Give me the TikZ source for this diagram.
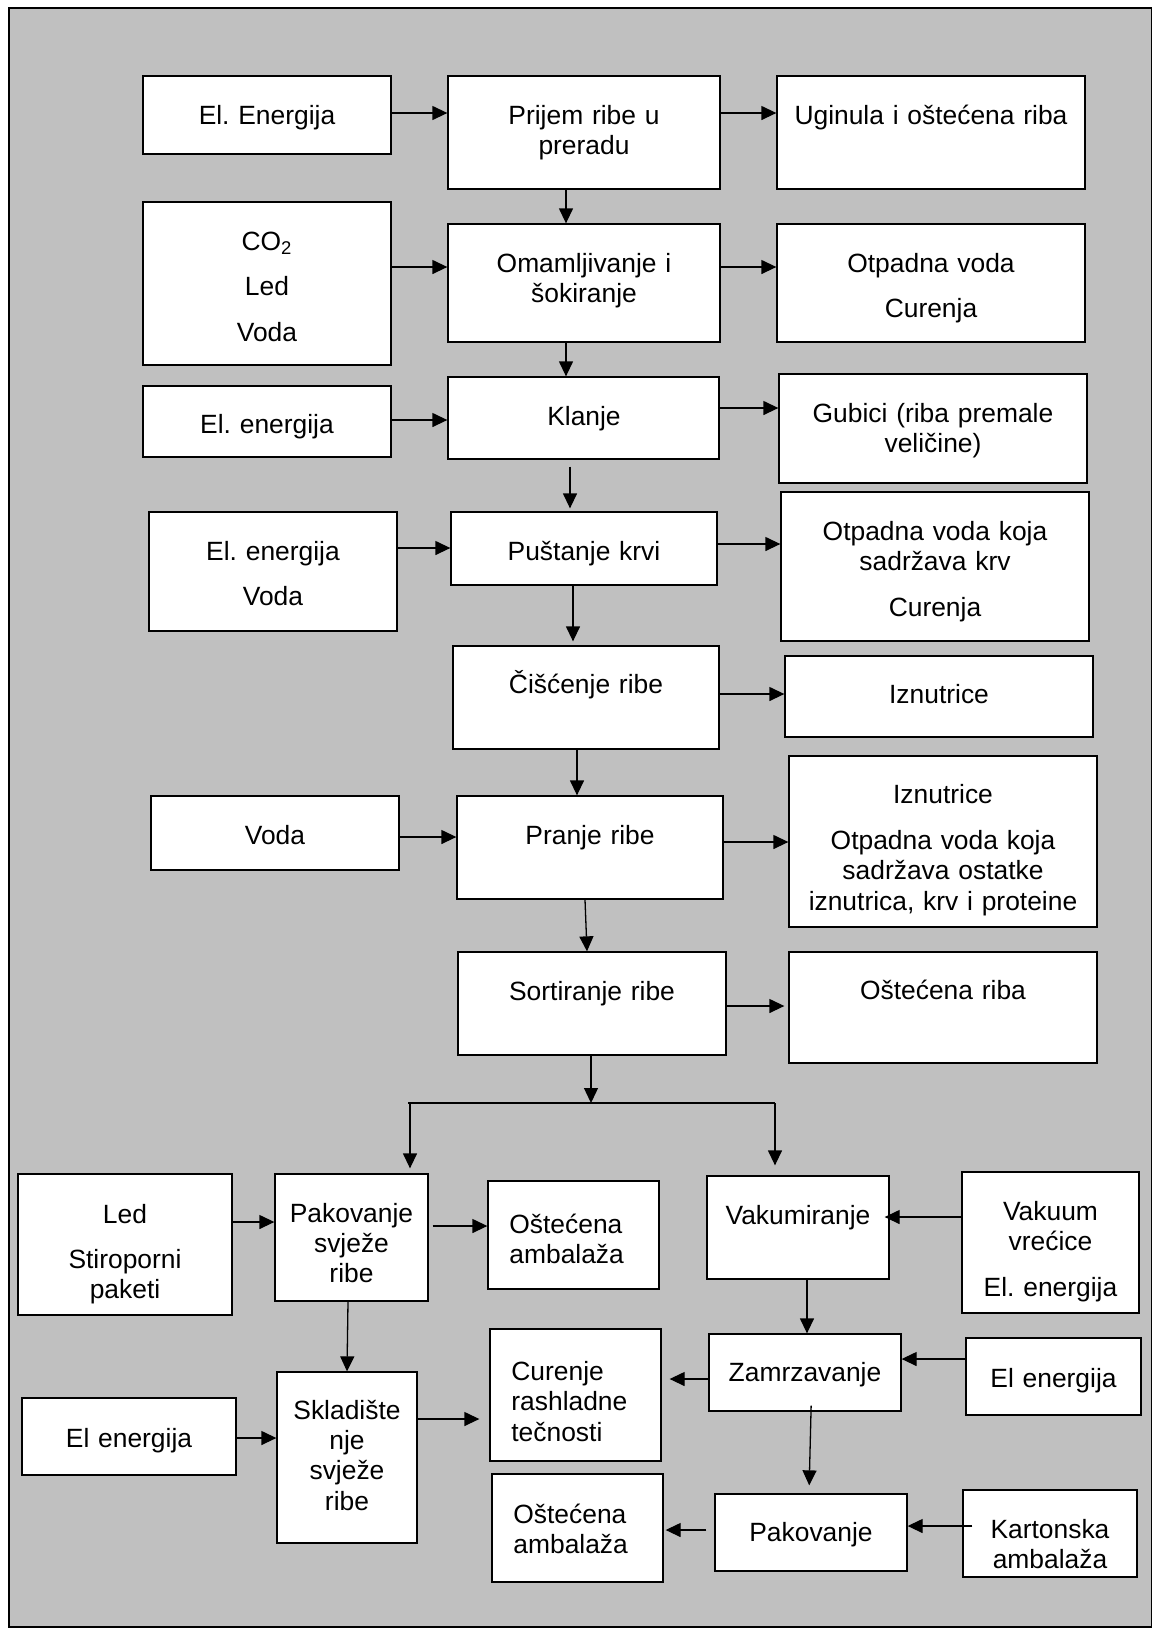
\documentclass[tikz,border=0pt]{standalone}
\usepackage{fontspec}
\setmainfont{Liberation Sans}
\usetikzlibrary{arrows.meta,fit}
\definecolor{bg}{RGB}{192,192,192}
\frenchspacing
\begin{document}
\begin{tikzpicture}[x=0.5pt,y=-0.5pt,
  box/.style={draw=black,fill=white,line width=0.65pt,inner sep=0pt},
  ct/.style={font=\frenchspacing\fontsize{13.2}{15.2}\selectfont,align=center,text width=160pt,inner sep=0pt,anchor=base},
  lt/.style={font=\frenchspacing\fontsize{13.2}{15.2}\selectfont,align=left,text width=80pt,inner sep=0pt,anchor=base west},
  arr/.style={line width=0.65pt,-{Triangle[length=7.5pt,width=7pt]}},
  ln/.style={line width=0.65pt}]
\useasboundingbox (0,0) rectangle (1153,1629);
\fill[white] (0,0) rectangle (1153,1629);
\draw[fill=bg,line width=0.7pt] (9,8) rectangle (1151.5,1627);

% ---- top part ----
\node[box,fit={(143,76) (391,154)}] (e1) {};
\node[ct] (e1t) at (267,124) {El. Energija};
\node[box,fit={(448,76) (720,189)}] (prijem) {};
\node[ct] (prijemt) at (584,124) {Prijem ribe u\\preradu};
\node[box,fit={(777,76) (1085,189)}] (ugin) {};
\node[ct] (Ugint) at (931,124) {Uginula i oštećena riba};

\node[box,fit={(143,202) (391,365)}] (co2) {};
\node[ct] (co2t) at (267,250) {CO\textsubscript{2}\\[7.7pt]Led\\[7.7pt]Voda};
\node[box,fit={(448,224) (720,342)}] (omam) {};
\node[ct] (omamt) at (584,272) {Omamljivanje i\\šokiranje};
\node[box,fit={(777,224) (1085,342)}] (otp1) {};
\node[ct] (otp1t) at (931,272) {Otpadna voda\\[7.3pt]Curenja};

\node[box,fit={(143,386) (391,457)}] (e2) {};
\node[ct] (e2t) at (267,433) {El. energija};
\node[box,fit={(448,377) (719,459)}] (klanje) {};
\node[ct] (klanjet) at (584,425) {Klanje};
\node[box,fit={(779,374) (1087,483)}] (gub) {};
\node[ct] (gubt) at (933,422) {Gubici (riba premale\\veličine)};

\node[box,fit={(149,512) (397,631)}] (e3) {};
\node[ct] (e3t) at (273,560) {El. energija\\[7.7pt]Voda};
\node[box,fit={(451,512) (717,585)}] (pust) {};
\node[ct] (pustt) at (584,560) {Puštanje krvi};
\node[box,fit={(781,492) (1089,641)}] (otp2) {};
\node[ct] (otp2t) at (935,540) {Otpadna voda koja\\sadržava krv\\[8pt]Curenja};

\node[box,fit={(453,646) (719,749)}] (cisc) {};
\node[ct] (cisct) at (586,693) {Čišćenje ribe};
\node[box,fit={(785,656) (1093,737)}] (izn1) {};
\node[ct] (izn1t) at (939,703) {Iznutrice};

\node[box,fit={(151,796) (399,870)}] (voda) {};
\node[ct] (vodat) at (275,844) {Voda};
\node[box,fit={(457,796) (723,899)}] (pranje) {};
\node[ct] (pranjet) at (590,844) {Pranje ribe};
\node[box,fit={(789,756) (1097,927)}] (izn2) {};
\node[ct] (izn2t) at (943,803) {Iznutrice\\[8pt]Otpadna voda koja\\sadržava ostatke\\iznutrica, krv i proteine};

\node[box,fit={(458,952) (726,1055)}] (sort) {};
\node[ct] (sortt) at (592,1000) {Sortiranje ribe};
\node[box,fit={(789,952) (1097,1063)}] (ostr) {};
\node[ct] (ostrt) at (943,999) {Oštećena riba};

% ---- bottom part ----
\node[box,fit={(18,1174) (232,1315)}] (led) {};
\node[ct] (ledt) at (125,1223) {Led\\[7.3pt]Stiroporni\\paketi};
\node[box,fit={(275,1174) (428,1301)}] (pak1) {};
\node[ct] (pak1t) at (351.5,1222) {Pakovanje\\svježe\\ribe};
\node[box,fit={(488,1181) (659,1289)}] (ost1) {};
\node[lt] (ost1t) at (509,1233) {Oštećena\\ambalaža};
\node[box,fit={(707,1176) (889,1279)}] (vak) {};
\node[ct] (vakt) at (798,1224) {Vakumiranje};
\node[box,fit={(962,1172) (1139,1313)}] (vakv) {};
\node[ct] (vakvt) at (1050.5,1220) {Vakuum\\vrećice\\[8pt]El. energija};

\node[box,fit={(277,1372) (417,1543)}] (skl) {};
\node[ct] (sklt) at (347,1419) {Skladište\\nje\\svježe\\ribe};
\node[box,fit={(22,1398) (236,1475)}] (e4) {};
\node[ct] (e4t) at (129,1447) {El energija};
\node[box,fit={(490,1329) (661,1461)}] (cur) {};
\node[lt] (curt) at (511,1380.5) {Curenje\\rashladne\\tečnosti};
\node[box,fit={(709,1334) (901,1411)}] (zam) {};
\node[ct] (zamt) at (805,1381) {Zamrzavanje};
\node[box,fit={(966,1338) (1141,1415)}] (e5) {};
\node[ct] (e5t) at (1053.5,1387) {El energija};

\node[box,fit={(492,1474) (663,1582)}] (ost2) {};
\node[lt] (ost2t) at (513,1523) {Oštećena\\ambalaža};
\node[box,fit={(715,1494) (907,1571)}] (pak2) {};
\node[ct] (pak2t) at (811,1541) {Pakovanje};
\node[box,fit={(963,1490) (1137,1577)}] (kart) {};
\node[ct] (kartt) at (1050,1538) {Kartonska\\ambalaža};

% ---- connectors ----
\draw[arr] (e1.east |- 0,113) -- (prijem.west |- 0,113);
\draw[arr] (prijem.east |- 0,113) -- (ugin.west |- 0,113);
\draw[arr] (co2.east |- 0,267) -- (omam.west |- 0,267);
\draw[arr] (omam.east |- 0,267) -- (otp1.west |- 0,267);
\draw[arr] (prijem.south -| 566,0) -- (omam.north -| 566,0);
\draw[arr] (omam.south -| 566,0) -- (klanje.north -| 566,0);
\draw[arr] (e2.east |- 0,420) -- (klanje.west |- 0,420);
\draw[arr] (klanje.east |- 0,408) -- (gub.west |- 0,408);
\draw[arr,shorten <=3.5pt,shorten >=1.5pt] (klanje.south -| 570,0) -- (pust.north -| 570,0);
\draw[arr] (e3.east |- 0,548) -- (pust.west |- 0,548);
\draw[arr] (pust.east |- 0,544) -- (otp2.west |- 0,544);
\draw[arr,shorten >=2pt] (pust.south -| 573,0) -- (cisc.north -| 573,0);
\draw[arr] (cisc.east |- 0,694) -- (izn1.west |- 0,694);
\draw[arr] (cisc.south -| 577,0) -- (pranje.north -| 577,0);
\draw[arr] (voda.east |- 0,837) -- (pranje.west |- 0,837);
\draw[arr] (pranje.east |- 0,842) -- (izn2.west |- 0,842);
\draw[arr] (pranje.south -| 585,0) -- (sort.north -| 587,0);
\draw[arr,shorten >=2pt] (sort.east |- 0,1006) -- (ostr.west |- 0,1006);

\coordinate (jl) at (408,1103);
\coordinate (jr) at (775,1103);
\coordinate (jm) at (591,1103);
\draw[arr] (sort.south -| jm) -- (jm);
\draw[ln] (jl) -- (jr);
\draw[arr,shorten >=2.5pt] (jl -| 410,0) -- (pak1.north -| 410,0);
\draw[arr,shorten >=5pt] (jr) -- (vak.north -| jr);

\draw[arr] (led.east |- 0,1222) -- (pak1.west |- 0,1222);
\draw[arr,shorten <=2pt] (pak1.east |- 0,1226) -- (ost1.west |- 0,1226);
\draw[arr] (pak1.south -| 348,0) -- (skl.north -| 347,0);
\draw[arr] (e4.east |- 0,1438) -- (skl.west |- 0,1438);
\draw[arr,shorten >=5pt] (skl.east |- 0,1419) -- (cur.west |- 0,1419);
\draw[arr,shorten >=-2.5pt] (vakv.west |- 0,1217) -- (vak.east |- 0,1217);
\draw[arr] (vak.south -| 807,0) -- (zam.north -| 807,0);
\draw[arr] (e5.west |- 0,1359) -- (zam.east |- 0,1359);
\draw[arr,shorten >=4pt] (zam.west |- 0,1379) -- (cur.east |- 0,1379);
\draw[arr,shorten <=-3pt,shorten >=4pt] (zam.south -| 811,0) -- (pak2.north -| 809,0);
\draw[arr,shorten <=-5pt] (kart.west |- 0,1526) -- (pak2.east |- 0,1526);
\draw[arr,shorten <=4pt,shorten >=1pt] (pak2.west |- 0,1530) -- (ost2.east |- 0,1530);
\end{tikzpicture}
\end{document}
